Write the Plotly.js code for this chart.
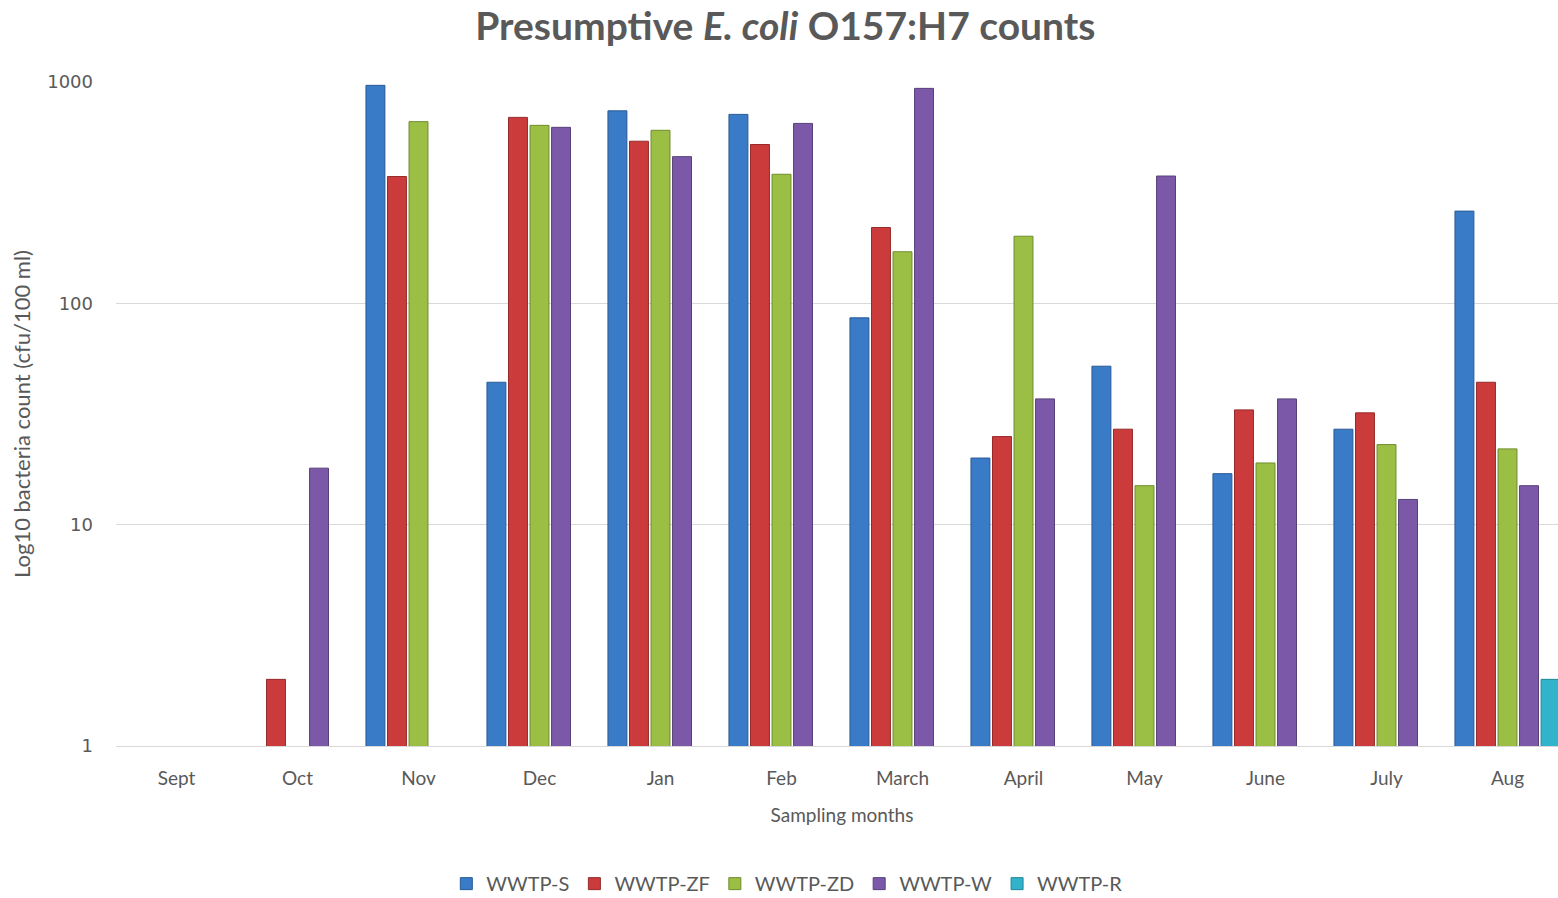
<!DOCTYPE html>
<html>
<head>
<meta charset="utf-8">
<script src="https://cdn.plot.ly/plotly-3.0.1.min.js"></script>
<style>
  html, body { margin: 0; padding: 0; overflow: hidden; background: #ffffff; }
  #chart { width: 1570px; height: 898px; }
</style>
</head>
<body>
<div id="chart"></div>
<script>
// Sampling months (x categories)
const months = ["Sept", "Oct", "Nov", "Dec", "Jan", "Feb", "March", "April", "May", "June", "July", "Aug"];

// Presumptive E. coli O157:H7 counts, cfu/100 ml (null = not detected)
const wwtpS  = [null, null, 966, 44, 741, 714, 86, 20, 52, 17, 27, 261];
const wwtpZF = [null, 2, 374, 692, 540, 522, 220, 25, 27, 33, 32, 44];
const wwtpZD = [null, null, 662, 637, 605, 383, 171, 201, 15, 19, 23, 22];
const wwtpW  = [null, 18, null, 624, 460, 650, 936, 37, 376, 37, 13, 15];
const wwtpR  = [null, null, null, null, null, null, null, null, null, null, null, 2];

const seriesNames = ["WWTP-S", "WWTP-ZF", "WWTP-ZD", "WWTP-W", "WWTP-R"];
const seriesValues = [wwtpS, wwtpZF, wwtpZD, wwtpW, wwtpR];
const fillColors = ["#3a7bc8", "#cc3b3b", "#9bbf45", "#7b59a8", "#33b3cb"];
const edgeColors = ["#2a5a94", "#952a2a", "#6f8c2e", "#574079", "#21869a"];

const FONT = "Lato, 'Open Sans', sans-serif";
const TEXT = "#595959";

const traces = seriesNames.map((name, i) => ({
  type: "bar",
  name: name,
  x: months,
  y: seriesValues[i],
  marker: { color: fillColors[i], line: { color: edgeColors[i], width: 1 } },
  hoverinfo: "x+y+name"
}));

const layout = {
  width: 1570,
  height: 898,
  margin: { l: 116, r: 2, t: 82, b: 152 },
  paper_bgcolor: "#ffffff",
  plot_bgcolor: "#ffffff",
  font: { family: FONT, color: TEXT, size: 19 },
  title: {
    text: "<b>Presumptive <i>E. coli</i> O157:H7 counts</b>",
    font: { family: FONT, size: 39, color: TEXT },
    xref: "paper", x: 0.461, xanchor: "center",
    yref: "container", y: 0.971, yanchor: "middle"
  },
  barmode: "group",
  bargap: 0.11,
  bargroupgap: 0.12,
  xaxis: {
    type: "category",
    showgrid: false,
    showline: true,
    linecolor: "#d9d9d9",
    linewidth: 1,
    ticks: "",
    ticklabelstandoff: 15,
    tickfont: { family: FONT, size: 19, color: TEXT },
    title: { text: "Sampling months", font: { family: FONT, size: 19, color: TEXT }, standoff: 20 }
  },
  yaxis: {
    type: "log",
    range: [0, 3],
    tickvals: [1, 10, 100, 1000],
    ticktext: ["1", "10", "100", "1000"],
    showgrid: true,
    gridcolor: "#d9d9d9",
    gridwidth: 1,
    zeroline: false,
    showline: false,
    ticks: "",
    ticklabelstandoff: 22,
    tickfont: { family: "'DejaVu Sans', sans-serif", size: 18, color: TEXT },
    title: { text: "Log10 bacteria count (cfu/100 ml)", font: { family: FONT, size: 22, color: TEXT }, standoff: 10 }
  },
  legend: {
    orientation: "h",
    xref: "paper", x: 0.462, xanchor: "center",
    yref: "container", y: 0.016, yanchor: "middle",
    font: { family: FONT, size: 20, color: TEXT },
    itemwidth: 30,
    traceorder: "normal"
  },
  showlegend: true
};

Plotly.newPlot("chart", traces, layout, { displayModeBar: false, responsive: false });
</script>
</body>
</html>
